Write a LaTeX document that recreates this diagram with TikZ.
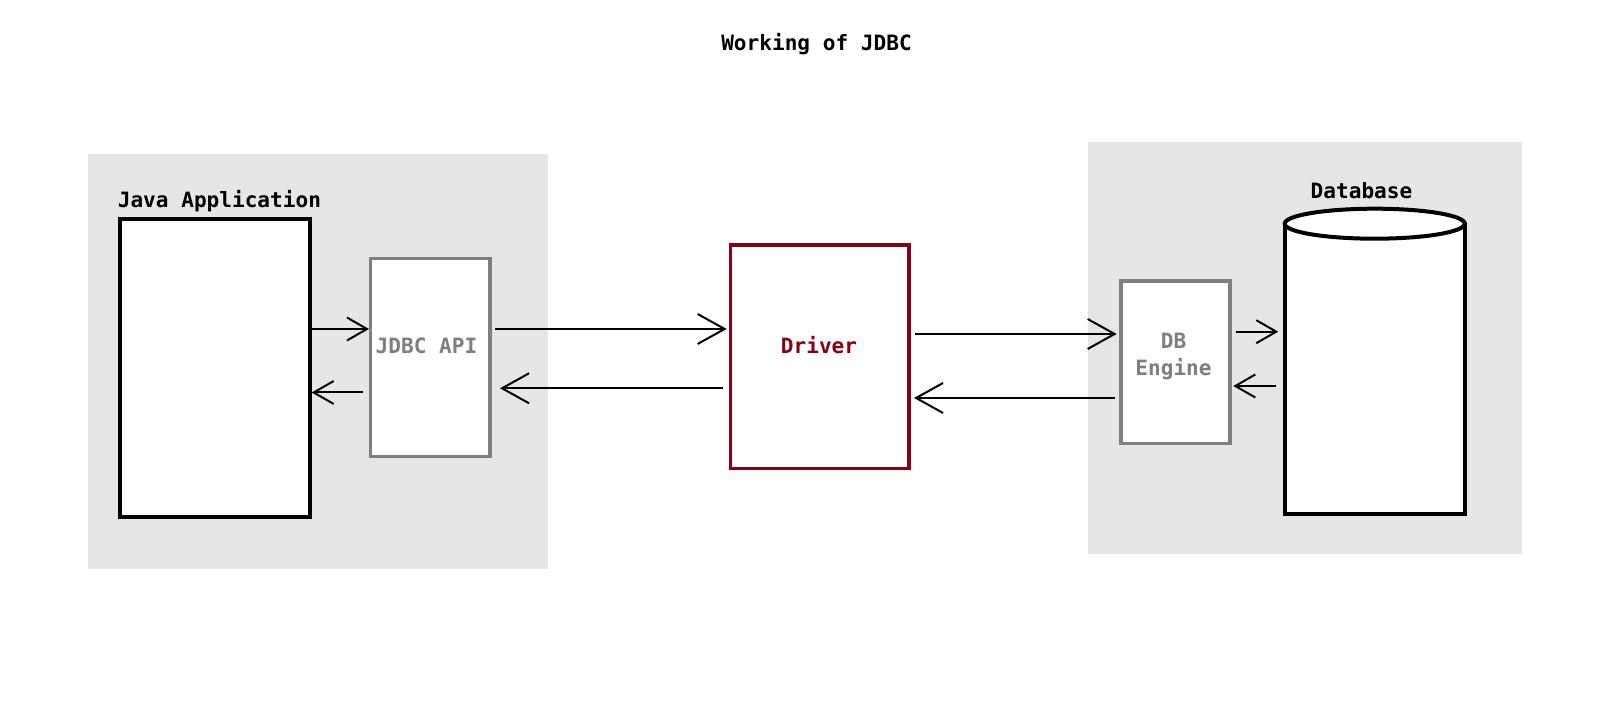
\documentclass[tikz,border=0pt]{standalone}
\usepackage{fontspec}
\setmonofont{DejaVu Sans Mono}
\usepackage{xcolor}
\usepackage{tikz}
\usetikzlibrary{arrows.meta}
\definecolor{fond}{HTML}{E6E6E6}
\definecolor{gris}{HTML}{7F7F7F}
\definecolor{rougefonce}{HTML}{880015}
\tikzstyle{txt} = [font=\ttfamily\bfseries\fontsize{12}{15.1}\selectfont,
inner sep=0pt]
\tikzstyle{box} = [rectangle,
fill=white,
inner sep=0pt,
draw=black]
\tikzstyle{graybox} = [box, draw=gris, line width=0.066cm]
\tikzstyle{arrow} = [line width=0.04cm,-{Straight Barb[length=0.4cm,width=0.46cm]}]
\tikzstyle{bigarrow} = [line width=0.04cm,-{Straight Barb[length=0.54cm,width=0.6cm]}]

\begin{document}
\begin{tikzpicture}
\useasboundingbox (0,0) rectangle (32,14.12);

% Titre
\node[txt, anchor=base] (titre) at (16.33,13.11) {Working of JDBC};

% Zones grises
\fill[fond] (1.76,2.74) rectangle (10.96,11.04);
\fill[fond] (21.76,3.04) rectangle (30.44,11.28);

% Application Java
\node[txt, anchor=base west] (javalabel) at (2.35,9.96) {Java Application};
\node[box, line width=0.08cm, minimum width=3.794cm, minimum height=5.954cm] (java) at (4.297,6.763) {};

% JDBC API
\node[graybox, minimum width=2.388cm, minimum height=3.96cm] (api) at (8.607,6.973) {};
\node[txt, text=gris, anchor=base] (apilabel) at (8.53,7.05) {JDBC API};

% Driver
\node[box, draw=rougefonce, line width=0.066cm, minimum width=3.568cm, minimum height=4.468cm] (driver) at (16.397,6.987) {};
\node[txt, text=rougefonce, anchor=base] (driverlabel) at (16.38,7.05) {Driver};

% DB Engine
\node[graybox, minimum width=2.182cm, minimum height=3.248cm] (engine) at (23.51,6.877) {};
\node[txt, text=gris, align=center] (enginelabel) at (23.47,6.99) {DB\\Engine};

% Base de données (cylindre)
\node[txt, anchor=base] (dblabel) at (27.23,10.153) {Database};
\node[box, line width=0.08cm, outer sep=0pt, minimum width=3.60cm, minimum height=5.806cm] (db) at (27.494,6.743) {};
\draw[line width=0.08cm, fill=white] (db.north) ellipse (1.80cm and 0.30cm);

% Flèches aller
\draw[arrow] (java.east |- 0,7.54) -- (api.west |- 0,7.54);
\draw[bigarrow, shorten <=0.066cm, shorten >=0.046cm] (api.east |- 0,7.54) -- (driver.west |- 0,7.54);
\draw[bigarrow, shorten <=0.086cm, shorten >=0.052cm] (driver.east |- 0,7.44) -- (engine.west |- 0,7.44);
\draw[arrow, shorten <=0.08cm, shorten >=0.128cm] (engine.east |- 0,7.486) -- (db.west |- 0,7.486);

% Flèches retour
\draw[arrow, shorten <=0.174cm, shorten >=0.032cm] (db.west |- 0,6.40) -- (engine.east |- 0,6.40);
\draw[bigarrow, shorten <=0.086cm, shorten >=0.066cm] (engine.west |- 0,6.16) -- (driver.east |- 0,6.16);
\draw[bigarrow, shorten <=0.12cm, shorten >=0.166cm] (driver.west |- 0,6.354) -- (api.east |- 0,6.354);
\draw[arrow, shorten <=0.13cm] (api.west |- 0,6.27) -- (java.east |- 0,6.27);

\end{tikzpicture}
\end{document}
